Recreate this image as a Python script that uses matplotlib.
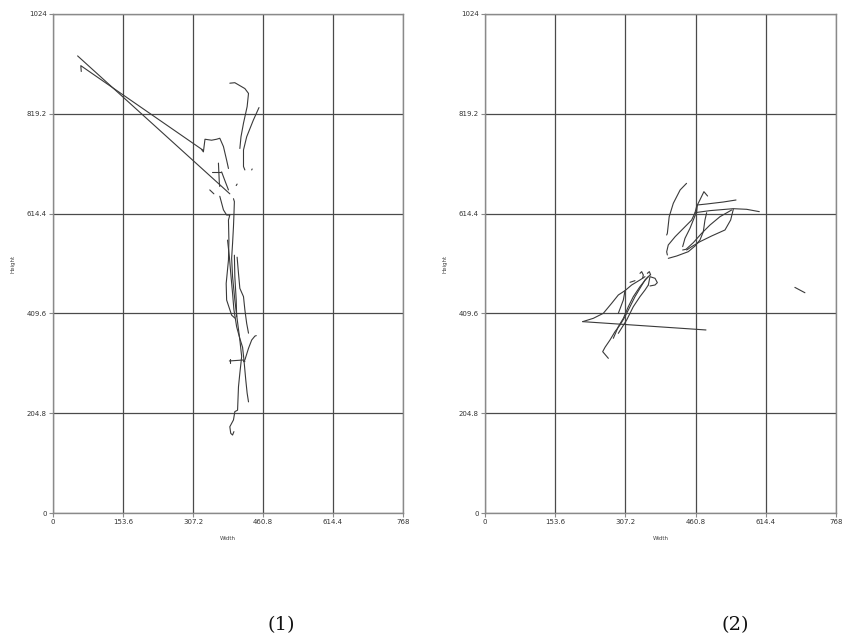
import matplotlib
matplotlib.use("Agg")
import matplotlib.pyplot as plt

# ---------------- data ----------------
x_ticks = [0, 153.6, 307.2, 460.8, 614.4, 768]
y_ticks = [0, 204.8, 409.6, 614.4, 819.2, 1024]
x_tick_labels = ["0", "153.6", "307.2", "460.8", "614.4", "768"]
y_tick_labels = ["0", "204.8", "409.6", "614.4", "819.2", "1024"]
captions = ["(1)", "(2)"]

# panel (1) strokes: (x, y) points
p1_s01 = [(54, 938), (388, 655)]
p1_s02 = [(62, 906), (61, 918), (330, 744)]
p1_s03 = [(326, 746), (330, 741), (333.5, 767), (348, 765), (359, 767), (366, 769), (374, 752), (381, 724), (385, 707)]
p1_s04 = [(388, 882), (399, 883), (421, 871), (429, 861), (426, 834), (418, 800), (412.5, 772), (410, 748)]
p1_s05 = [(452, 832), (439.5, 806), (425, 772), (418, 745), (418, 711), (421, 704)]
p1_s06 = [(436, 704), (437, 706)]
p1_s07 = [(363, 718), (365, 677), (366, 670)]
p1_s08 = [(348, 699), (368, 699)]
p1_s09 = [(370, 700), (378, 680), (385, 663)]
p1_s10 = [(344, 663), (353, 655)]
p1_s11 = [(402, 672), (404, 675)]
p1_s12 = [(366, 650), (374, 622), (381, 611.5), (388, 611.5), (385, 601), (386, 560), (385, 519), (380, 471), (381, 437), (392, 406), (399, 400)]
p1_s13 = [(396, 645), (398, 639), (397, 611.5), (396, 587.5), (394, 553), (392, 523), (394, 485), (399, 437), (403, 406), (410, 355), (414, 321), (410, 287), (407, 259), (405, 211), (399, 208), (396, 191), (388, 177), (390, 163.5), (394, 160), (397, 167)]
p1_s14 = [(383, 560), (387, 526), (390, 492), (394, 451), (397, 417), (403, 382), (410, 358), (416, 340), (419, 314), (423, 273), (426, 246), (429, 228)]
p1_s15 = [(398, 529), (399, 485), (402, 437), (403, 403)]
p1_s16 = [(404, 525), (407, 492), (410, 461), (418, 444), (421, 417), (425, 389), (429, 369)]
p1_s17 = [(446, 364), (443, 363), (436, 355), (429, 338), (421, 314), (418, 310.5)]
p1_s18 = [(387, 312), (418, 314), (421, 310.5)]
p1_s19 = [(388, 316), (388, 308)]

# panel (2) strokes
p2_s01 = [(441, 676.5), (427, 663), (412, 635.5), (403, 608), (399, 574), (397.5, 570.5)]
p2_s02 = [(487, 650.5), (479, 659.4), (470, 642), (463, 629), (459.5, 616), (452, 601), (434, 584), (416, 567), (401, 550), (397.5, 536), (399, 529.5)]
p2_s03 = [(432.5, 546.6), (437.6, 563.7), (448.5, 584.2), (455.8, 601.3), (463.1, 618.4), (464.6, 632.1), (485, 634.1), (521.5, 638.2), (549.2, 642.3)]
p2_s04 = [(459.5, 616.3), (492.3, 620.5), (543.3, 624.5), (572.5, 623.2), (600.2, 618.4)]
p2_s05 = [(543.3, 623.2), (537.5, 601.3), (525.1, 580.8), (495.9, 568.5), (470.4, 556.8), (452.2, 546.6), (441.2, 539.7)]
p2_s06 = [(539.7, 621.8), (514.2, 608.1), (492.3, 591), (474.1, 574), (455.8, 554.8), (439.8, 541.1), (432.5, 539.7)]
p2_s07 = [(401.1, 522.6), (419.4, 527.4), (444.9, 536.3), (459.5, 547.9), (470.4, 560.3), (477.7, 577.4), (481.3, 601.3), (485, 616.3)]
p2_s08 = [(213.7, 392.7), (483.5, 375.6)]
p2_s09 = [(213.7, 392.7), (237, 399.5), (258.9, 409.8), (277.1, 430.3), (291.7, 447.4), (306.3, 456.3), (320.9, 467.9), (339.1, 478.2), (350.1, 485)]
p2_s10 = [(269.9, 317.4), (257.5, 331.1), (262.6, 340), (273.5, 355), (284.4, 372.1), (295.4, 385.8), (306.3, 402.9), (317.3, 423.4), (328.2, 444), (339.1, 461.1), (350.1, 478.2), (357.4, 485)]
p2_s11 = [(280.8, 358.5), (291.7, 382.4), (302.7, 399.5), (313.6, 423.4), (324.5, 444), (339.1, 464.5), (353.7, 481.6), (361, 488.4)]
p2_s12 = [(291.7, 368.7), (310, 396.1), (324.5, 423.4), (339.1, 444), (350.1, 457.6), (357.4, 467.9)]
p2_s13 = [(357.4, 467.9), (361, 485), (372, 481.6), (377.1, 472.7), (372, 467.9), (361, 465.9)]
p2_s14 = [(339.1, 491.8), (342.8, 495.3), (346.4, 488.4), (344.9, 481.6)]
p2_s15 = [(355.2, 491.8), (359.6, 495.3), (362.5, 488.4)]
p2_s16 = [(317.3, 473.4), (328.2, 476.8)]
p2_s17 = [(306.3, 456.3), (302.7, 437.1), (291.7, 409.8)]
p2_s18 = [(678, 463), (690, 457), (700, 452)]

panel1 = [p1_s01, p1_s02, p1_s03, p1_s04, p1_s05, p1_s06, p1_s07, p1_s08, p1_s09, p1_s10,
          p1_s11, p1_s12, p1_s13, p1_s14, p1_s15, p1_s16, p1_s17, p1_s18, p1_s19]
panel2 = [p2_s01, p2_s02, p2_s03, p2_s04, p2_s05, p2_s06, p2_s07, p2_s08, p2_s09, p2_s10,
          p2_s11, p2_s12, p2_s13, p2_s14, p2_s15, p2_s16, p2_s17, p2_s18]

# ---------------- figure ----------------
W, H = 843, 641
fig = plt.figure(figsize=(W / 100, H / 100), dpi=100)
fig.patch.set_facecolor("white")

boxes = [(53, 14, 350, 499), (485, 14, 351, 499)]
cap_x = [281, 735]

for (bx, by, bw, bh), strokes, cap, cx in zip(boxes, [panel1, panel2], captions, cap_x):
    ax = fig.add_axes([bx / W, 1 - (by + bh) / H, bw / W, bh / H])
    ax.set_xlim(0, 768)
    ax.set_ylim(0, 1024)
    ax.set_xticks(x_ticks)
    ax.set_xticklabels(x_tick_labels)
    ax.set_yticks(y_ticks)
    ax.set_yticklabels(y_tick_labels)
    ax.grid(True, color="#4a4a4a", linewidth=0.9)
    ax.set_axisbelow(True)
    for sp in ax.spines.values():
        sp.set_color("#8a8a8a")
        sp.set_linewidth(1.0)
    ax.tick_params(axis="both", direction="out", length=3, width=0.8, color="#8a8a8a",
                   labelsize=5, labelcolor="#333333", pad=1.5)
    ax.set_xlabel("Width", fontsize=4, color="#444444", labelpad=8)
    ax.set_ylabel("Height", fontsize=4, color="#444444", labelpad=8)
    for s in strokes:
        xs = [p[0] for p in s]
        ys = [p[1] for p in s]
        ax.plot(xs, ys, color="#3a3a3a", linewidth=0.8, solid_capstyle="round")
    fig.text(cx / W, 1 - 625 / H, cap, ha="center", va="center",
             fontsize=14, family="DejaVu Serif", color="#111111")

fig.savefig("out.png", dpi=100, facecolor="white")
